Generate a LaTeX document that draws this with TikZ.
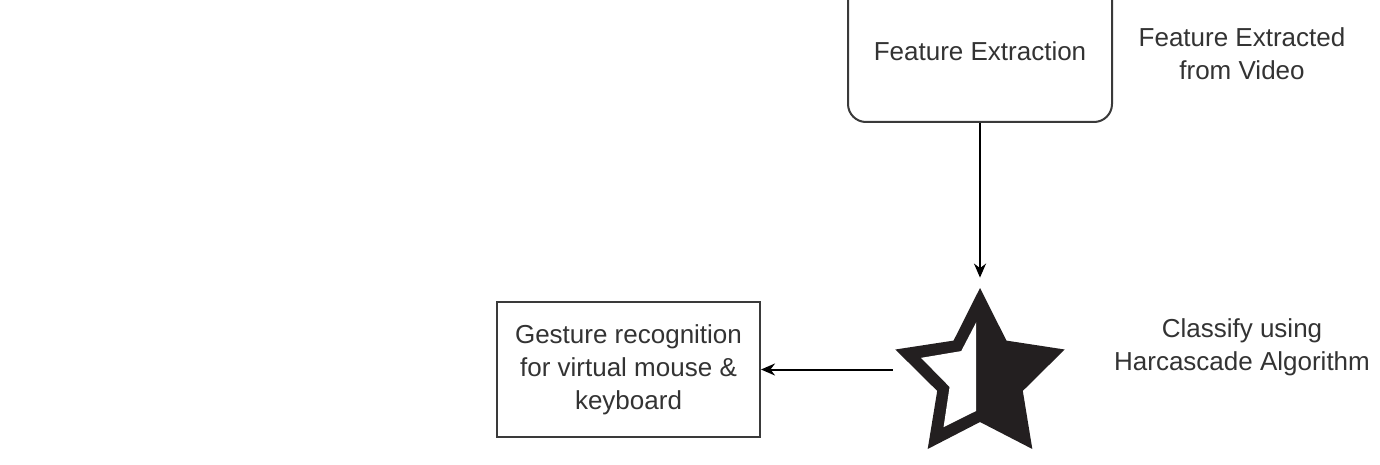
\documentclass[tikz,border=0pt]{standalone}
\usepackage{fontspec}
\setmainfont{Liberation Sans}
\usetikzlibrary{arrows.meta}
\definecolor{txt}{HTML}{333333}
\definecolor{edge}{HTML}{3A3A3A}
\definecolor{starc}{HTML}{231F20}
\tikzset{
  lbl/.style={text=txt, align=center, font=\fontsize{13}{16.5}\selectfont},
  boxs/.style={lbl, draw=edge, line width=1pt, inner sep=0pt},
  conn/.style={draw=black, line width=1pt, -{Stealth[length=7pt,width=6pt]}}
}
\begin{document}
\begin{tikzpicture}[x=0.5pt,y=-0.5pt]
\useasboundingbox (0,0) rectangle (1380,465);
\clip (0,0) rectangle (1380,465);
\fill[white] (0,0) rectangle (1380,465);
% nodes
\node[boxs, rounded corners=9pt, minimum width=132pt, minimum height=71pt] (feat) at (980,51) {Feature Extraction};
\node[lbl] (featlbl) at (1242,54) {Feature Extracted\\from Video};
\node[boxs, minimum width=131.5pt, minimum height=67.5pt] (gest) at (628.5,369.5) {\raisebox{1.5pt}{\parbox{125pt}{\centering Gesture recognition\\for virtual mouse \&\\keyboard}}};
\node[lbl] (clslbl) at (1242,347) {Classify using\\Harcascade Algorithm};
\node[inner sep=0pt, minimum width=85pt, minimum height=87pt] (star) at (978,365) {};
% star drawing
\begin{scope}[shift={(980,377)}]
  \fill[starc] (-90:89) -- (-54:45) -- (-18:89) -- (18:45) -- (54:89) -- (90:45) -- (126:89) -- (162:45) -- (198:89) -- (234:45) -- cycle;
  \begin{scope}
    \clip (-100,-100) rectangle (-4,100);
    \fill[white] (-90:62) -- (-54:32) -- (-18:62) -- (18:32) -- (54:62) -- (90:32) -- (126:62) -- (162:32) -- (198:62) -- (234:32) -- cycle;
  \end{scope}
\end{scope}
% connectors
\draw[conn] (feat.south) -- (feat.south |- star.north);
\draw[conn] (star.west |- gest.east) -- (gest.east);
\end{tikzpicture}
\end{document}
